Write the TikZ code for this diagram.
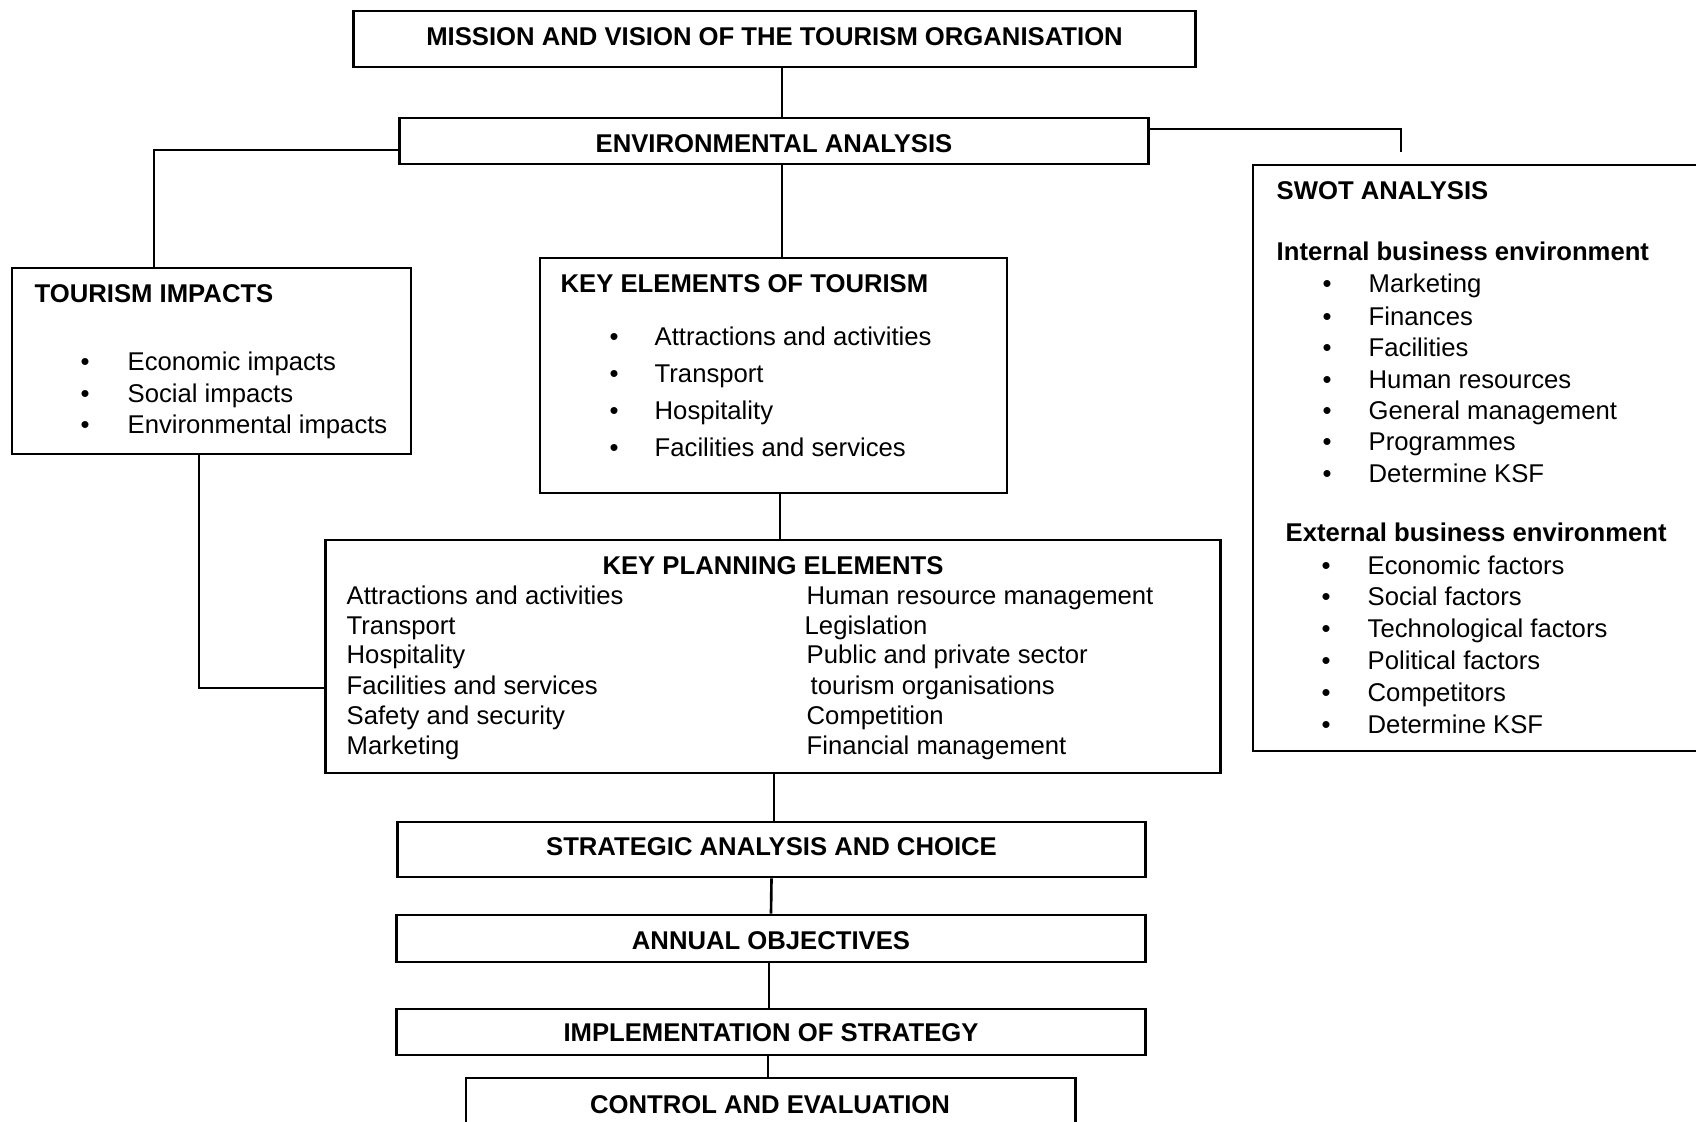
\documentclass[tikz,border=0pt]{standalone}
\usepackage{fontspec}
\setmainfont{Liberation Sans}
\usetikzlibrary{calc}
\newcommand{\diagfont}{\fontsize{7.3}{8.8}\selectfont}
\tikzset{
%Define styles for boxes and texts
box/.style={draw, line width=0.75pt, inner sep=0pt},
heading/.style={font=\diagfont\bfseries, inner sep=0pt, text height=0.54em, text depth=0pt},
entry/.style={font=\diagfont, anchor=west, inner sep=0pt, text height=0.54em, text depth=0pt},
dot/.style={font=\diagfont, inner sep=0pt, text height=0.54em, text depth=0pt},
%Define style for the connecting lines
connection/.style={line width=0.75pt},
}

\begin{document}
\begin{tikzpicture}[x=0.01cm, y=-0.01cm]
    % Frame of the picture
    \useasboundingbox (0,0) rectangle (1696,1122);
    \clip (0,0) rectangle (1696,1122);

    % Boxes
    \node[box, heading, text depth=0.16em, minimum width=8.41cm, minimum height=0.56cm] (mission) at (774.5,39) {MISSION AND VISION OF THE TOURISM ORGANISATION};
    \node[box, heading, text height=0.66em, minimum width=7.48cm, minimum height=0.46cm] (env) at (774,141) {ENVIRONMENTAL ANALYSIS};
    \node[box, minimum width=3.99cm, minimum height=1.86cm] (impacts) at (211.5,361) {};
    \node[box, minimum width=4.67cm, minimum height=2.35cm] (keyel) at (773.5,375.5) {};
    \node[box, minimum width=8.94cm, minimum height=2.33cm] (planning) at (773,656.5) {};
    \node[box, minimum width=4.67cm, minimum height=5.86cm] (swot) at (1486.5,458) {};
    \node[box, heading, text depth=0.2em, minimum width=7.47cm, minimum height=0.55cm] (strategic) at (771.5,849.5) {STRATEGIC ANALYSIS AND CHOICE};
    \node[box, heading, text height=0.62em, minimum width=7.48cm, minimum height=0.47cm] (annual) at (771,938.5) {ANNUAL OBJECTIVES};
    \node[box, heading, minimum width=7.48cm, minimum height=0.46cm] (implementation) at (771,1032) {IMPLEMENTATION OF STRATEGY};
    \node[box, minimum width=6.09cm, minimum height=0.72cm] (control) at (770.5,1114) {};
    \node[heading] (controltext) at (770,1104) {CONTROL AND EVALUATION};

    % Tourism impacts
    \node[heading, anchor=west] (impactstitle) at (34,293) {TOURISM IMPACTS};
    \node[dot] (impdot1) at (85,361) {\textbullet};
    \node[dot] (impdot2) at (85,393) {\textbullet};
    \node[dot] (impdot3) at (85,424) {\textbullet};
    \node[entry] (imp1) at (127,361) {Economic impacts};
    \node[entry] (imp2) at (127,393) {Social impacts};
    \node[entry] (imp3) at (127,424) {Environmental impacts};

    % Key elements of tourism
    \node[heading, anchor=west] (keyeltitle) at (560,283) {KEY ELEMENTS OF TOURISM};
    \node[dot] (keydot1) at (614,336) {\textbullet};
    \node[dot] (keydot2) at (614,373) {\textbullet};
    \node[dot] (keydot3) at (614,410) {\textbullet};
    \node[dot] (keydot4) at (614,447) {\textbullet};
    \node[entry] (key1) at (654,336) {Attractions and activities};
    \node[entry] (key2) at (654,373) {Transport};
    \node[entry] (key3) at (654,410) {Hospitality};
    \node[entry] (key4) at (654,447) {Facilities and services};

    % Key planning elements
    \node[heading] (planningtitle) at (773,565) {KEY PLANNING ELEMENTS};
    \node[entry] (planl1) at (346,595) {Attractions and activities};
    \node[entry] (planl2) at (346,625) {Transport};
    \node[entry] (planl3) at (346,654) {Hospitality};
    \node[entry] (planl4) at (346,685) {Facilities and services};
    \node[entry] (planl5) at (346,715) {Safety and security};
    \node[entry] (planl6) at (346,745) {Marketing};
    \node[entry] (planr1) at (806,595) {Human resource management};
    \node[entry] (planr2) at (804,625) {Legislation};
    \node[entry] (planr3) at (806,654) {Public and private sector};
    \node[entry] (planr4) at (810,685) {tourism organisations};
    \node[entry] (planr5) at (806,715) {Competition};
    \node[entry] (planr6) at (806,745) {Financial management};

    % SWOT analysis
    \node[heading, anchor=west] (swottitle) at (1276,190) {SWOT ANALYSIS};
    \node[heading, anchor=west] (internal) at (1276,251) {Internal business environment};
    \node[dot] (intdot1) at (1327,283) {\textbullet};
    \node[dot] (intdot2) at (1327,316) {\textbullet};
    \node[dot] (intdot3) at (1327,347) {\textbullet};
    \node[dot] (intdot4) at (1327,379) {\textbullet};
    \node[dot] (intdot5) at (1327,410) {\textbullet};
    \node[dot] (intdot6) at (1327,441) {\textbullet};
    \node[dot] (intdot7) at (1327,473) {\textbullet};
    \node[entry] (int1) at (1368,283) {Marketing};
    \node[entry] (int2) at (1368,316) {Finances};
    \node[entry] (int3) at (1368,347) {Facilities};
    \node[entry] (int4) at (1368,379) {Human resources};
    \node[entry] (int5) at (1368,410) {General management};
    \node[entry] (int6) at (1368,441) {Programmes};
    \node[entry] (int7) at (1368,473) {Determine KSF};
    \node[heading, anchor=west] (external) at (1285,532) {External business environment};
    \node[dot] (extdot1) at (1326,565) {\textbullet};
    \node[dot] (extdot2) at (1326,596) {\textbullet};
    \node[dot] (extdot3) at (1326,628) {\textbullet};
    \node[dot] (extdot4) at (1326,660) {\textbullet};
    \node[dot] (extdot5) at (1326,692) {\textbullet};
    \node[dot] (extdot6) at (1326,724) {\textbullet};
    \node[entry] (ext1) at (1367,565) {Economic factors};
    \node[entry] (ext2) at (1367,596) {Social factors};
    \node[entry] (ext3) at (1367,628) {Technological factors};
    \node[entry] (ext4) at (1367,660) {Political factors};
    \node[entry] (ext5) at (1367,692) {Competitors};
    \node[entry] (ext6) at (1367,724) {Determine KSF};

    % Connections
    \coordinate (swotend) at ($(swot.north)+(-85.5,-12)$);
    \draw[connection] ($(mission.south)+(7.5,0)$) -- ($(env.north)+(8,0)$);
    \draw[connection] ($(env.south)+(8,0)$) -- ($(keyel.north)+(8.5,0)$);
    \draw[connection] ($(env.west)+(0,9)$) -| ($(impacts.north)+(-57.5,0)$);
    \draw[connection] ($(env.east)+(0,-12)$) -| (swotend);
    \draw[connection] ($(keyel.south)+(6.5,0)$) -- ($(planning.north)+(7,0)$);
    \draw[connection] ($(impacts.south)+(-12.5,0)$) |- ($(planning.west)+(0,31.5)$);
    \draw[connection] ($(planning.south)+(1,0)$) -- ($(strategic.north)+(2.5,0)$);
    \draw[connection] (strategic.south) -- (annual.north);
    \draw[connection] ($(annual.south)+(-2,0)$) -- ($(implementation.north)+(-2,0)$);
    \draw[connection] ($(implementation.south)+(-3,0)$) -- ($(control.north)+(-2.5,0)$);
\end{tikzpicture}
\end{document}
